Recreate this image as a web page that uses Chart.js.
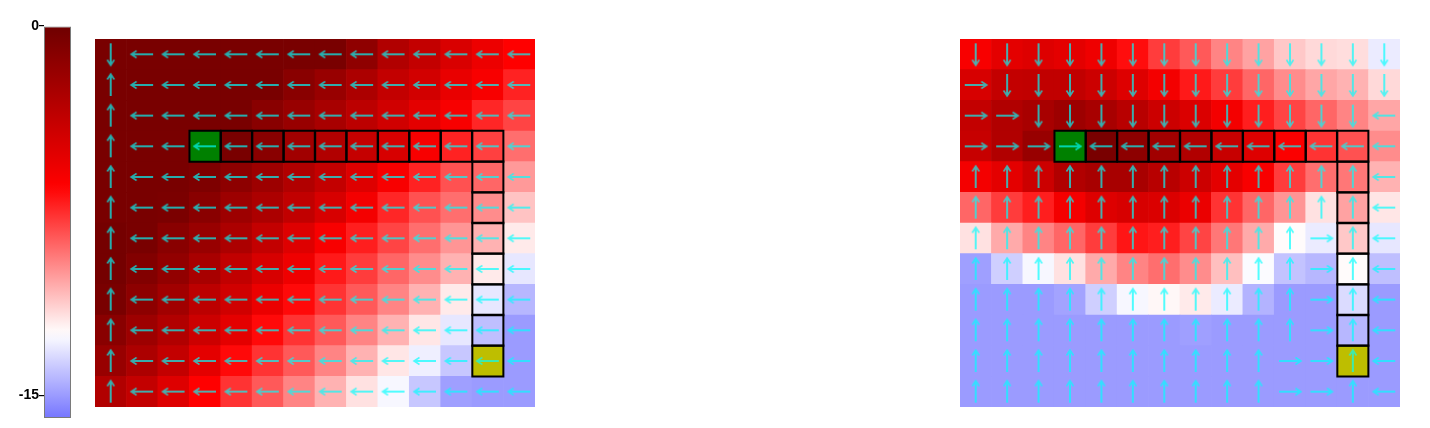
<!DOCTYPE html>
<html><head><meta charset="utf-8">
<script src="https://cdn.jsdelivr.net/npm/chart.js@4.4.0/dist/chart.umd.min.js"></script>
<style>
html,body{margin:0;padding:0;background:#fff;width:1430px;height:428px;overflow:hidden}
canvas{position:absolute}
#cb{left:0;top:0}
#g1{left:95px;top:39px}
#g2{left:960px;top:39px}
</style></head><body>
<canvas id="cb" width="80" height="428"></canvas>
<canvas id="g1" width="440" height="368"></canvas>
<canvas id="g2" width="440" height="368"></canvas>
<script>
// ---------- data ----------
const colorbarTicks = [0, -15];
const colorbarRange = [-15.93, 0];
const leftValues = [
 [-0.5,-0.5,-0.5,-0.5,-0.5,-0.5,-0.5,-0.5,-1.5,-3,-3.8,-4.8,-5.7,-6.5],
 [-0.5,-0.5,-0.5,-0.5,-0.5,-0.5,-1.2,-1.9,-2.8,-3.8,-4.5,-5.5,-6.2,-7.3],
 [-0.5,-0.5,-0.5,-0.5,-0.5,-1.2,-1.9,-2.6,-3.5,-4.4,-5.3,-6.2,-7.4,-8.1],
 [-0.5,-0.5,-0.5,0,-0.5,-1.2,-2.3,-3,-3.9,-4.7,-6.2,-7.3,-8,-9.1],
 [-0.5,-0.5,-0.5,-0.7,-1.4,-2.1,-3,-3.8,-5,-6.2,-7.3,-8.4,-8.9,-10.1],
 [-0.5,-0.5,-0.6,-1.2,-2.1,-2.8,-3.7,-4.7,-6,-7.4,-8.4,-9.1,-9.8,-11.1],
 [-0.3,-0.5,-1.2,-1.9,-2.8,-3.8,-5,-6.2,-7.2,-8.1,-9.1,-10,-10.7,-12],
 [-0.3,-0.9,-1.6,-2.6,-3.7,-4.7,-5.8,-7.1,-7.9,-8.9,-9.8,-10.7,-12,-13.1],
 [-0.5,-1.4,-2.3,-3.5,-4.4,-5.6,-6.7,-7.7,-8.6,-9.6,-10.7,-12,-13.1,-14.3],
 [-1.2,-2.1,-3,-4.2,-5.3,-6.7,-7.7,-8.6,-9.6,-10.7,-11.9,-13.1,-14.1,-15],
 [-1.9,-2.8,-3.8,-5.3,-6.7,-7.7,-8.6,-9.6,-10.7,-11.9,-12.9,-13.9,-15,-15],
 [-3,-3.8,-5,-6.5,-7.7,-8.6,-9.6,-10.7,-11.8,-12.7,-13.9,-14.9,-15,-15]
];
const rightValues = [
 [-6.2,-5.3,-5,-5.3,-5.8,-6.8,-7.9,-8.6,-9.6,-10.3,-11.2,-11.6,-11.7,-13],
 [-4.7,-3.8,-3.7,-3.7,-4.2,-5,-6,-7.1,-7.9,-8.9,-9.8,-10.4,-10.7,-11.6],
 [-3.8,-3,-2.6,-2.1,-2.6,-3.3,-4.2,-4.9,-6,-7.2,-8.1,-8.9,-9.6,-10.4],
 [-4,-3,-1.9,0,-0.5,-1.4,-2.3,-3,-4,-5,-6.3,-7.7,-8.4,-9.8],
 [-6,-5.3,-4.2,-3,-2.6,-2.6,-3.3,-4.2,-5.3,-6.2,-7.9,-9.1,-9.3,-10.7],
 [-8.9,-7.9,-7.2,-6,-5,-4.7,-4.9,-5.6,-7.7,-8.9,-10,-11.8,-10.3,-11.9],
 [-11.8,-10.5,-9.6,-8.9,-7.9,-7,-7.2,-8.1,-9.3,-10.5,-12.4,-13,-11.2,-13.1],
 [-14.9,-13.7,-12.7,-11.8,-10.5,-9.6,-9.1,-9.8,-11,-12.6,-14,-14.3,-12.4,-14.1],
 [-15,-15,-15,-14.8,-13.7,-12.7,-12.3,-12,-13,-14.4,-15,-15,-13.4,-15],
 [-15,-15,-15,-15,-15,-15,-15,-14.9,-15,-15,-15,-15,-14.3,-15],
 [-15,-15,-15,-15,-15,-15,-15,-15,-15,-15,-15,-15,-15,-15],
 [-15,-15,-15,-15,-15,-15,-15,-15,-15,-15,-15,-15,-15,-15]
];
const leftArrows = [
 'DLLLLLLLLLLLLL','ULLLLLLLLLLLLL','ULLLLLLLLLLLLL','ULLLLLLLLLLLLL',
 'ULLLLLLLLLLLLL','ULLLLLLLLLLLLL','ULLLLLLLLLLLLL','ULLLLLLLLLLLLL',
 'ULLLLLLLLLLLLL','ULLLLLLLLLLLLL','ULLLLLLLLLLLLL','ULLLLLLLLLLLLL'
];
const rightArrows = [
 'DDDDDDDDDDDDDD','RDDDDDDDDDDDDD','RRDDDDDDDDDDDL','RRRRLLLLLLLLLL',
 'UUUUUUUUUUUUUL','UUUUUUUUUUUUUL','UUUUUUUUUUURUL','UUUUUUUUUUURUL',
 'UUUUUUUUUUURUL','UUUUUUUUUUURUL','UUUUUUUUUURRUL','UUUUUUUUUURRUL'
];
const goalCell = [3, 3];
const startCell = [10, 12];
const pathCells = [[3,3],[3,4],[3,5],[3,6],[3,7],[3,8],[3,9],[3,10],[3,11],[3,12],
 [4,12],[5,12],[6,12],[7,12],[8,12],[9,12],[10,12]];

// ---------- colormap ----------
const cmapStops = [[0,[110,0,0]],[-6.5,[255,0,0]],[-12.5,[255,255,255]],[-16,[115,115,255]]];
function cmapRGB(v){
  v = Math.max(-16, Math.min(0, v));
  for (let i=0;i<cmapStops.length-1;i++){
    const [a,ca]=cmapStops[i],[b,cb]=cmapStops[i+1];
    if (v<=a && v>=b){
      const t=(a-v)/(a-b);
      return ca.map((x,k)=>Math.round(x+(cb[k]-x)*t));
    }
  }
  return cmapStops[cmapStops.length-1][1];
}
const rgb = a => `rgb(${a[0]},${a[1]},${a[2]})`;

// ---------- colorbar ----------
new Chart(document.getElementById('cb'), {
  type:'bar',
  data:{labels:[''], datasets:[{
    data:[colorbarRange],
    backgroundColor: ctx => {
      const ch = ctx.chart; if (!ch.chartArea) return 'red';
      const ys = ch.scales.y;
      const y0 = ys.getPixelForValue(colorbarRange[1]), y1 = ys.getPixelForValue(colorbarRange[0]);
      const g = ch.ctx.createLinearGradient(0,y0,0,y1);
      const span = colorbarRange[1]-colorbarRange[0];
      for (let i=0;i<=40;i++){
        const v = colorbarRange[1] - span*i/40;
        g.addColorStop(i/40, rgb(cmapRGB(v)));
      }
      return g;
    },
    borderColor:'#7a7a7a', borderWidth:1, borderSkipped:false,
    barPercentage:1, categoryPercentage:1, inflateAmount:0
  }]},
  options:{
    responsive:false, animation:false, events:[],
    layout:{padding:{top:26,bottom:10,right:9,left:0}, autoPadding:false},
    plugins:{legend:{display:false},tooltip:{enabled:false}},
    scales:{
      x:{display:false},
      y:{min:colorbarRange[0], max:colorbarRange[1],
        afterFit(s){ s.width = 44; },
        afterBuildTicks(s){ s.ticks = colorbarTicks.map(v=>({value:v})); },
        ticks:{color:'#000', padding:0, font:{family:'Liberation Sans', weight:'bold', size:14}, callback:v=>String(v)},
        grid:{drawOnChartArea:false, drawTicks:true, tickLength:5, color:'#000', lineWidth:1.2},
        border:{display:false}
      }
    }
  }
});

// ---------- arrows ----------
function makeArrow(){
  const S=28;
  const a=document.createElement('canvas'); a.width=S; a.height=S;
  const g=a.getContext('2d'); g.translate(S/2,S/2);
  g.strokeStyle='rgb(0,255,255)';
  g.lineWidth=2; g.beginPath(); g.moveTo(-11,0); g.lineTo(10,0); g.stroke();
  g.lineWidth=1.6; g.lineJoin='miter';
  g.beginPath(); g.moveTo(5.5,-3.5); g.lineTo(11,0); g.lineTo(5.5,3.5); g.stroke();
  const b=document.createElement('canvas'); b.width=S; b.height=S;
  const h=b.getContext('2d'); h.globalAlpha=0.68; h.drawImage(a,0,0);
  return b;
}
const arrowImg = makeArrow();
const dirAngle = {R:0, D:90, L:180, U:270};

function makeGrid(id, values, arrows){
  const cells=[], arr=[], outl=[];
  for (let r=0;r<values.length;r++){
    for (let c=0;c<values[r].length;c++){
      cells.push({x:c+0.5, y:[r,r+1], r, c});
      arr.push({x:c+0.5, y:r+0.5, d:arrows[r][c]});
    }
  }
  pathCells.forEach(([r,c])=>outl.push({x:c+0.5, y:r+0.5}));
  const cellColor = raw => {
    if (raw.r===goalCell[0] && raw.c===goalCell[1]) return 'rgb(0,128,0)';
    if (raw.r===startCell[0] && raw.c===startCell[1]) return 'rgb(190,190,0)';
    return rgb(cmapRGB(values[raw.r][raw.c]));
  };
  new Chart(document.getElementById(id), {
    type:'scatter',
    data:{datasets:[
      {type:'bar', data:cells, order:3, backgroundColor: ctx=>cellColor(ctx.raw),
       borderWidth:0, barPercentage:1, categoryPercentage:1},
      {type:'scatter', data:outl, order:2, pointStyle:'rect',
       pointRadius: ctx => {
         const ch=ctx.chart, xs=ch.scales.x, ys=ch.scales.y;
         if(!xs||!ys) return 20;
         const w=Math.abs(xs.getPixelForValue(1)-xs.getPixelForValue(0));
         const hh=Math.abs(ys.getPixelForValue(1)-ys.getPixelForValue(0));
         return (w+hh)/2/(2*Math.SQRT1_2);
       },
       pointBorderWidth:2, pointBorderColor:'#000', pointBackgroundColor:'rgba(0,0,0,0)'},
      {type:'scatter', data:arr, order:1, pointStyle:arrowImg, pointRadius:3,
       rotation: ctx => dirAngle[ctx.raw.d]}
    ]},
    options:{
      responsive:false, animation:false, events:[],
      layout:{padding:0, autoPadding:false},
      plugins:{legend:{display:false},tooltip:{enabled:false}},
      scales:{
        x:{type:'linear', min:0, max:14, display:false, offset:false},
        y:{type:'linear', min:0, max:12, reverse:true, display:false}
      }
    }
  });
}
makeGrid('g1', leftValues, leftArrows);
makeGrid('g2', rightValues, rightArrows);
</script>
</body></html>
